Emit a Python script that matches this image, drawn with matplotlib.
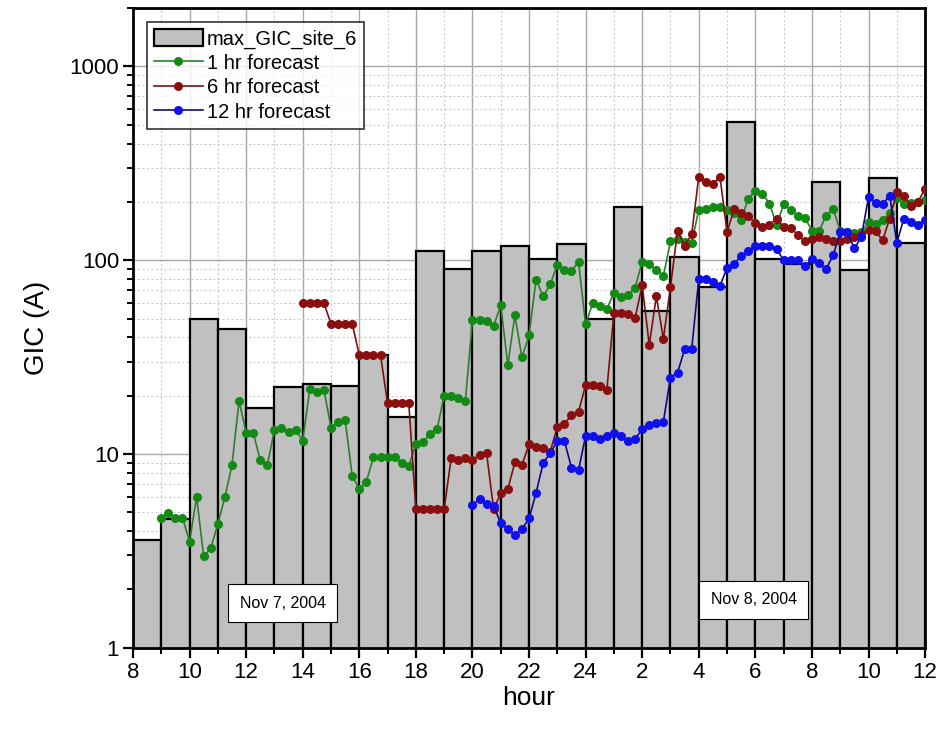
import numpy as np
import matplotlib.pyplot as plt
from matplotlib.ticker import FixedLocator, NullFormatter

plt.rcParams['font.family'] = ['Liberation Sans', 'DejaVu Sans']

# hourly maximum GIC, bar starts at 8h on Nov 7 (hours counted past midnight go on as 24, 25, ...)
bar_hours = np.arange(8, 36)
bar_gic = [3.6, 4.6, 50, 44, 17.3, 22.1, 22.9, 22.4, 32.4, 15.5,
           112, 90, 112, 119, 102, 121, 50, 188, 55, 104,
           72.5, 514, 102, 96, 252, 89, 265, 122]

# forecasts, one value every 15 min
t1 = np.arange(9.0, 36.01, 0.25)
f1 = [4.66, 4.95, 4.7, 4.7, 3.53, 6.0, 2.96, 3.27, 4.35, 6.0, 8.77, 18.8,
      12.9, 12.9, 9.3, 8.77, 13.3, 13.6, 13.0, 13.3, 11.7, 21.6, 21.0, 21.5,
      13.7, 14.7, 15.0, 7.7, 6.6, 7.2, 9.6, 9.6, 9.6, 9.6, 9.0, 8.7,
      11.2, 11.5, 12.7, 13.4, 20.0, 20.0, 19.5, 18.8, 49, 49, 48.5, 45.7,
      58.6, 28.8, 52, 31.5, 41, 79.5, 65, 75, 95, 89, 88, 98,
      46.6, 60, 58, 55.9, 67.8, 64.6, 66, 72.3, 98, 96, 88.9, 83,
      125, 129, 124, 123, 182, 184, 188, 188, 182, 175, 161, 208,
      228, 220, 196, 152, 194, 182, 169, 166, 142, 141, 170, 184,
      142, 140, 138, 140, 157, 153, 161, 175, 210, 196, 198, 200, 205]

t6 = np.arange(14.0, 36.01, 0.25)
f6 = [60, 60, 60, 60, 47, 47, 47, 47, 32.4, 32.4, 32.4, 32.4,
      18.3, 18.3, 18.3, 18.3, 5.2, 5.2, 5.2, 5.2, 5.2,
      9.57, 9.3, 9.5, 9.3, 9.9, 10.1, 5.18, 6.27, 6.6, 9.06, 8.77,
      11.2, 10.9, 10.7, 10.3, 13.8, 14.3, 15.9, 16.5, 22.7, 22.7, 22.5, 21.3,
      53.5, 53.5, 53, 50.4, 74.3, 36.5, 65, 39.4, 72.8, 141.6, 119, 136,
      270, 254, 248, 269, 140, 183, 175, 169, 155, 148, 152, 164,
      149, 147, 135, 126, 129, 131, 128, 126, 126, 129, 132, 135,
      144, 141, 127, 164, 225, 215, 191, 200, 234]

t12 = np.arange(20.0, 36.01, 0.25)
f12 = [5.46, 5.84, 5.53, 5.4, 4.39, 4.09, 3.82, 4.09, 4.65, 6.3, 9.0, 10.1,
       11.7, 11.7, 8.5, 8.25, 12.4, 12.4, 12.0, 12.4, 12.9, 12.4, 11.7, 12.0,
       13.4, 14.1, 14.4, 14.7, 24.8, 26.3, 34.7, 34.7, 80, 80, 77.5, 73.5,
       91.6, 95.8, 105, 111, 119, 119, 118, 114, 100, 100, 100, 93.5,
       101, 97, 90, 106, 140, 140, 115, 132, 212, 198, 195, 215,
       123, 164, 158, 152, 162]

xtick_pos = np.arange(8, 37, 2)
xtick_lab = ['8', '10', '12', '14', '16', '18', '20', '22', '24',
             '2', '4', '6', '8', '10', '12']

fig = plt.figure(figsize=(9.43, 7.32), dpi=100)
ax = fig.add_axes([0.141, 0.115, 0.840, 0.874])

bars = ax.bar(bar_hours, bar_gic, width=1.0, align='edge', color='#c0c0c0',
              edgecolor='black', linewidth=1.6, label='max_GIC_site_6', zorder=2)

l1, = ax.plot(t1, f1, '-o', color='#2e7d2e', mfc='#138a13', mec='#138a13',
              ms=5.5, lw=1.2, label='1 hr forecast', zorder=3)
l6, = ax.plot(t6, f6, '-o', color='#7a1010', mfc='#8b0f0f', mec='#8b0f0f',
              ms=5.5, lw=1.2, label='6 hr forecast', zorder=4)
l12, = ax.plot(t12, f12, '-o', color='#0a0a8a', mfc='#1010ee', mec='#1010ee',
               ms=5.5, lw=1.2, label='12 hr forecast', zorder=5)

ax.set_yscale('log')
ax.set_ylim(1, 2000)
ax.set_xlim(8, 36)

ax.set_xticks(xtick_pos)
ax.set_xticklabels(xtick_lab)
ax.xaxis.set_minor_locator(FixedLocator(np.arange(9, 36, 2)))
ax.set_yticks([1, 10, 100, 1000])
ax.set_yticklabels(['1', '10', '100', '1000'])
ax.yaxis.set_minor_formatter(NullFormatter())

ax.tick_params(axis='both', which='major', direction='out', length=7,
               width=1.6, labelsize=16)
ax.tick_params(axis='y', which='major', pad=3)
ax.tick_params(axis='both', which='minor', direction='out', length=4,
               width=1.4)

ax.grid(True, which='major', color='#a8a8a8', lw=1.0, ls='-', zorder=0)
ax.grid(True, which='minor', color='#cccccc', lw=0.8, ls=(0, (2, 2)), zorder=0)
ax.set_axisbelow(True)

for s in ax.spines.values():
    s.set_linewidth(2.0)

ax.set_xlabel('hour', fontsize=19, labelpad=2)
ax.set_ylabel('GIC (A)', fontsize=20, labelpad=14)

box = dict(boxstyle='square,pad=0.72', fc='white', ec='black', lw=0.8)
ax.text(13.3, 1.7, 'Nov 7, 2004', fontsize=11.5, ha='center', va='center',
        bbox=box, zorder=6)
ax.text(29.95, 1.77, 'Nov 8, 2004', fontsize=11.5, ha='center', va='center',
        bbox=box, zorder=6)

leg = ax.legend([bars, l1, l6, l12],
                ['max_GIC_site_6', '1 hr forecast', '6 hr forecast', '12 hr forecast'],
                loc='upper left', bbox_to_anchor=(0.018, 0.978), fontsize=14.5,
                frameon=True, fancybox=False, edgecolor='black',
                handlelength=2.4, handleheight=0.9, handletextpad=0.2,
                labelspacing=0.25, borderpad=0.35, borderaxespad=0)
leg.get_frame().set_linewidth(1.2)
leg.set_zorder(7)

fig.savefig('out.png', dpi=100)
